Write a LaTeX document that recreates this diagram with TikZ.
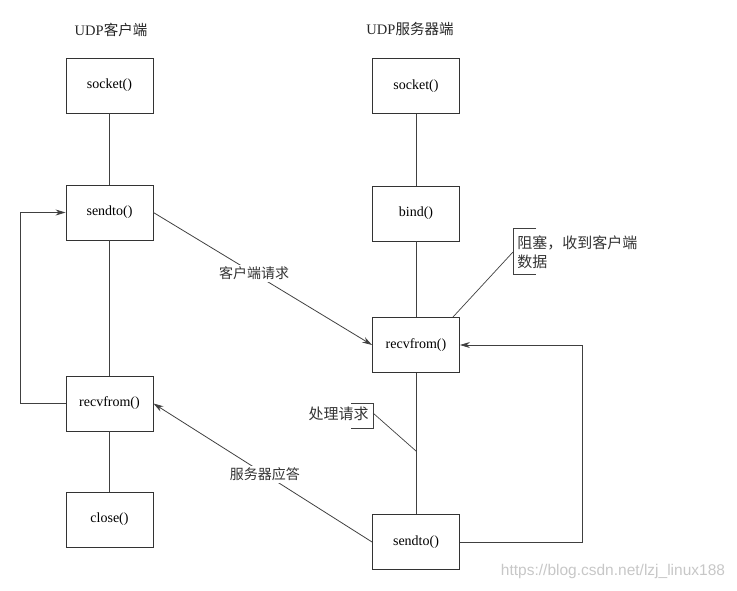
\documentclass[tikz,border=0pt]{standalone}
\usepackage{fontspec}
\setmainfont{Liberation Serif}
\newfontfamily\cjk{Noto Sans CJK SC}
\newfontfamily\wmfont{Liberation Sans}
\usetikzlibrary{arrows.meta}
\begin{document}
\begin{tikzpicture}[x=1pt,y=-1pt,
  line width=0.8pt, draw=black!75,
  fnbox/.style={draw=black!80, line width=0.9pt, minimum width=87pt, minimum height=55pt, inner sep=0pt, font=\fontsize{14}{16}\selectfont},
  conn/.style={draw=black!75, line width=0.8pt},
  arr/.style={conn, -{Stealth[length=10pt,width=6pt]}},
  lbl/.style={fill=white, inner sep=2pt, font=\cjk\fontsize{14}{16}\selectfont, text=black!80},
  note/.style={font=\cjk\fontsize{15}{19}\selectfont, text=black!80, align=left, inner sep=0pt},
  title/.style={font=\fontsize{14.5}{16}\selectfont, text=black!85, inner sep=0pt}]
\useasboundingbox (0,0) rectangle (737,590);

% titles
\node[title] (tc) at (111,30) {UDP{\cjk 客户端}};
\node[title] (tsv) at (410,29) {UDP{\cjk 服务器端}};

% client column
\node[fnbox] (cs)  at (109.5,85.5)  {socket()};
\node[fnbox] (cse) at (109.5,212.5) {sendto()};
\node[fnbox] (crc) at (109.5,403.5) {recvfrom()};
\node[fnbox] (ccl) at (109.5,519.5) {close()};

% server column
\node[fnbox] (ss)  at (416,86)    {socket()};
\node[fnbox] (sb)  at (416,213.5) {bind()};
\node[fnbox] (sr)  at (416,345)   {recvfrom()};
\node[fnbox] (ssd) at (416,542)   {sendto()};

% vertical connectors
\draw[conn] (cs) -- (cse);
\draw[conn] (cse) -- (crc);
\draw[conn] (crc) -- (ccl);
\draw[conn] (ss) -- (sb);
\draw[conn] (sb) -- (sr);
\draw[conn] (sr) -- (ssd);

% loops
\coordinate (lpl) at (20,0);
\coordinate (lpr) at (582,0);
\draw[arr] (crc.west) -- (crc.west -| lpl) |- (cse.west);
\draw[arr] (ssd.east) -- (ssd.east -| lpr) |- (sr.east);

% messages
\draw[arr] (cse.east) -- node[lbl, pos=0.46] {客户端请求} (sr.west);
\draw[arr] (ssd.west) -- node[lbl, pos=0.49] {服务器应答} (crc.east);

% annotation: blocking
\node[note, anchor=west] (blk) at (517,252) {阻塞，收到客户端\\数据};
\coordinate (bkt) at (513,228);
\coordinate (bkb) at (513,274);
\coordinate (bkm) at (513,252);
\draw[conn, line width=0.7pt] ([xshift=23pt]bkt) -- (bkt) -- (bkb) -- ([xshift=23pt]bkb);
\coordinate (srtop) at ([xshift=-7pt]sr.north east);
\draw[conn, line width=0.7pt] (bkm) -- (srtop);

% annotation: processing
\node[note, anchor=east] (proc) at (369,414) {处理请求};
\coordinate (pbt) at (373,403);
\coordinate (pbb) at (373,428);
\coordinate (pbm) at (373,413);
\draw[conn, line width=0.7pt] ([xshift=-22pt]pbt) -- (pbt) -- (pbb) -- ([xshift=-22pt]pbb);
\coordinate (pmid) at (416,451);
\draw[conn, line width=0.7pt] (pbm) -- (pmid);

% watermark
\node[font=\wmfont\fontsize{15.5}{17}\selectfont, text=black!22, inner sep=0pt] (wm) at (613,571) {https://blog.csdn.net/lzj\_linux188};
\end{tikzpicture}
\end{document}
